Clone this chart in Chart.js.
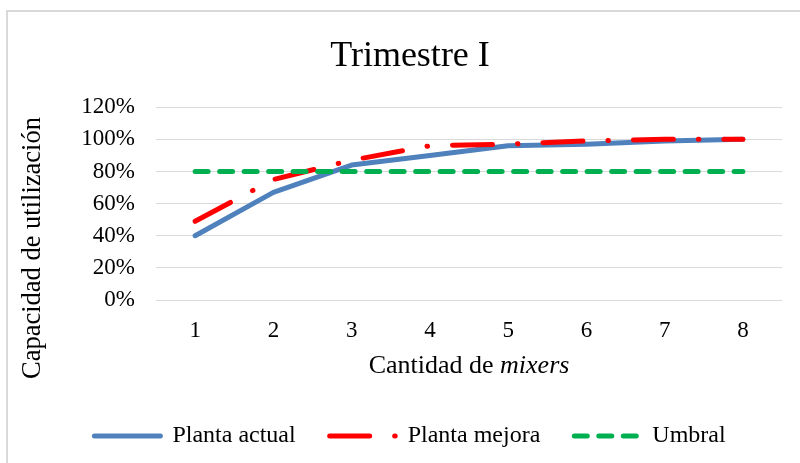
<!DOCTYPE html>
<html>
<head>
<meta charset="utf-8">
<script src="https://cdn.jsdelivr.net/npm/chart.js@4/dist/chart.umd.min.js"></script>
<style>
  body { margin: 0; background: #fff; }
  #frame {
    position: absolute; left: 6px; top: 10px; width: 800px; height: 460px;
    border-left: 2px solid #d9d9d9; border-top: 2px solid #d9d9d9;
  }
  #myChart { position: absolute; left: 0; top: 0; }
</style>
</head>
<body>
<div id="frame"></div>
<canvas id="myChart" width="800" height="463"></canvas>
<script>
const mixers = ['1', '2', '3', '4', '5', '6', '7', '8'];
const plantaActual = [40, 67, 84, 90, 96, 97, 99, 100];
const plantaMejora = [49, 75, 87, 96, 97, 99, 100, 100];
const umbral = [80, 80, 80, 80, 80, 80, 80, 80];

const serif = '"Liberation Serif", "Times New Roman", serif';

// axis titles drawn by hand: x title has an italic word, y title sits lower than chart.js would put it
const axisTitlePlugin = {
  id: 'axisTitles',
  afterDraw(chart) {
    const { ctx, chartArea } = chart;
    const a = 'Cantidad de ', b = 'mixers';
    ctx.save();
    ctx.fillStyle = '#000';
    ctx.textBaseline = 'middle';
    ctx.font = '26px ' + serif;
    const wa = ctx.measureText(a).width;
    ctx.font = 'italic 26px ' + serif;
    const wb = ctx.measureText(b).width;
    const x0 = (chartArea.left + chartArea.right) / 2 - (wa + wb) / 2;
    ctx.textAlign = 'left';
    ctx.font = '26px ' + serif;
    ctx.fillText(a, x0, 366);
    ctx.font = 'italic 26px ' + serif;
    ctx.fillText(b, x0 + wa, 366);

    ctx.translate(33, 248);
    ctx.rotate(-Math.PI / 2);
    ctx.textAlign = 'center';
    ctx.font = '26.5px ' + serif;
    ctx.fillText('Capacidad de utilización', 0, 0);
    ctx.restore();
  }
};

const ctx = document.getElementById('myChart');
new Chart(ctx, {
  type: 'line',
  data: {
    labels: mixers,
    datasets: [
      {
        label: 'Planta actual',
        data: plantaActual,
        borderColor: '#4f81bd',
        backgroundColor: '#4f81bd',
        borderWidth: 5,
        borderCapStyle: 'round',
        borderJoinStyle: 'round',
        order: 2
      },
      {
        label: 'Planta mejora',
        data: plantaMejora,
        borderColor: '#ff0000',
        backgroundColor: '#ff0000',
        borderWidth: 5,
        borderDash: [40, 25, 0.5, 25],
        borderCapStyle: 'round',
        order: 1
      },
      {
        label: 'Umbral',
        data: umbral,
        borderColor: '#00b050',
        backgroundColor: '#00b050',
        borderWidth: 5,
        borderDash: [13, 11.5],
        borderCapStyle: 'round',
        order: 0
      }
    ]
  },
  options: {
    responsive: false,
    animation: false,
    devicePixelRatio: 1,
    elements: { point: { radius: 0, hoverRadius: 0 }, line: { tension: 0 } },
    layout: { padding: { left: 38, right: 18, top: 0, bottom: 5 } },
    plugins: {
      title: {
        display: true,
        text: 'Trimestre I',
        color: '#000',
        font: { family: serif, size: 36, weight: 'normal' },
        padding: { top: 35, bottom: 29 }
      },
      legend: {
        position: 'bottom',
        labels: {
          color: '#000',
          font: { family: serif, size: 24 },
          usePointStyle: true,
          pointStyle: 'line',
          pointStyleWidth: 66,
          boxWidth: 66,
          padding: 34,
          sort: (a, b) => a.datasetIndex - b.datasetIndex,
          generateLabels: chart => Chart.defaults.plugins.legend.labels.generateLabels(chart).map(item => {
            const ds = chart.data.datasets[item.datasetIndex];
            item.strokeStyle = ds.borderColor;
            item.lineWidth = ds.borderWidth;
            item.lineDash = ds.borderDash || [];
            item.lineCap = 'round';
            item.pointStyle = 'line';
            return item;
          })
        }
      },
      tooltip: { enabled: false }
    },
    scales: {
      x: {
        offset: true,
        grid: { display: false, drawTicks: false },
        border: { display: false },
        ticks: { color: '#000', font: { family: serif, size: 23 }, padding: 17, autoSkip: false },
        afterFit: scale => { scale.height = 90; }
      },
      y: {
        min: 0,
        max: 120,
        ticks: {
          stepSize: 20,
          autoSkip: false,
          color: '#000',
          padding: 21,
          font: { family: serif, size: 23 },
          callback: v => v + '%'
        },
        grid: { color: '#d9d9d9', lineWidth: 1, drawTicks: false },
        border: { display: false },
        afterFit: scale => { scale.width = 118; }
      }
    }
  },
  plugins: [axisTitlePlugin]
});
</script>
</body>
</html>
